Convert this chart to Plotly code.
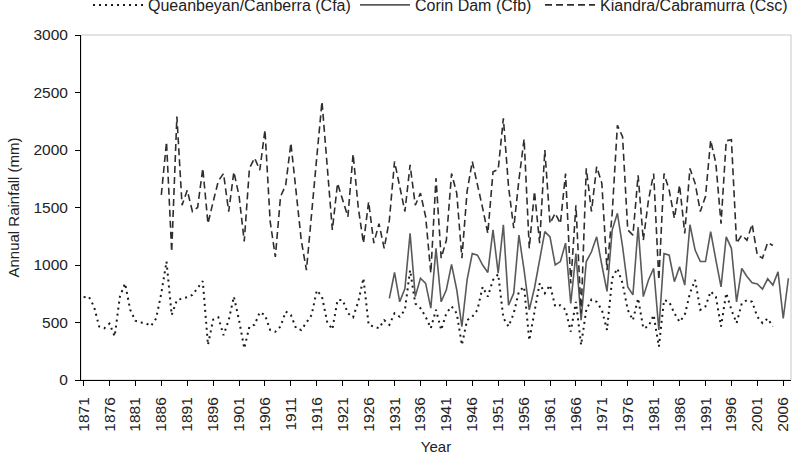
import plotly.graph_objects as go

# ---- data (annual rainfall, mm) ----
q_start = 1871
queanbeyan = [719, 725, 640, 465, 450, 490, 380, 725, 840, 610,
              515, 500, 495, 470, 535, 755, 1030, 565, 695, 705,
              720, 740, 800, 860, 305, 525, 545, 390, 520, 725,
              520, 275, 465, 480, 590, 565, 435, 420, 465, 595,
              565, 450, 435, 495, 565, 780, 725, 505, 440, 695,
              695, 580, 545, 680, 885, 480, 465, 450, 520, 480,
              580, 550, 610, 955, 665, 625, 550, 450, 610, 435,
              580, 640, 580, 305, 520, 550, 610, 810, 725, 870,
              920, 540, 465, 580, 770, 810, 345, 580, 840, 755,
              825, 640, 650, 610, 420, 680, 305, 610, 700, 680,
              610, 435, 885, 970, 840, 610, 520, 710, 450, 465,
              565, 290, 695, 680, 580, 505, 565, 755, 870, 610,
              640, 770, 725, 465, 755, 610, 495, 665, 695, 680,
              550, 495, 535, 465]

c_start = 1930
corin = [710, 935, 680, 795, 1275, 725, 885, 840, 625, 1145,
         680, 785, 1005, 785, 465, 870, 1100, 1085, 1000, 935,
         1305, 930, 1350, 650, 755, 1260, 955, 610, 800, 1040,
         1290, 1245, 1000, 1030, 1190, 665, 1100, 520, 1030, 1115,
         1245, 1000, 770, 1305, 1450, 1160, 810, 740, 1330, 725,
         870, 970, 435, 1100, 1085, 855, 985, 825, 1350, 1130,
         1030, 1030, 1290, 1045, 810, 1245, 1145, 680, 970, 900,
         845, 835, 790, 880, 825, 940, 535, 885]

k_start = 1886
kiandra = [1610, 2070, 1115, 2290, 1520, 1650, 1465, 1500, 1840, 1360,
           1550, 1730, 1795, 1465, 1810, 1600, 1205, 1840, 1930, 1825,
           2175, 1380, 1070, 1595, 1695, 2060, 1640, 1215, 955, 1480,
           1940, 2420, 1840, 1305, 1710, 1565, 1420, 1965, 1500, 1190,
           1550, 1190, 1360, 1145, 1390, 1900, 1680, 1465, 1870, 1520,
           1625, 1420, 930, 1755, 1060, 1215, 1795, 1625, 1060, 1640,
           1900, 1710, 1495, 1275, 1810, 1830, 2275, 1680, 1320, 1740,
           2095, 1145, 1640, 1190, 2000, 1360, 1450, 1360, 1795, 840,
           1520, 580, 1840, 1465, 1855, 1710, 955, 1450, 2215, 2115,
           1305, 1260, 1780, 1215, 1565, 1795, 870, 1795, 1650, 1405,
           1695, 1275, 1840, 1710, 1465, 1595, 2085, 1885, 1360, 2080,
           2090, 1190, 1260, 1215, 1355, 1085, 1060, 1195, 1170]

q_years = list(range(q_start, q_start + len(queanbeyan)))
c_years = list(range(c_start, c_start + len(corin)))
k_years = list(range(k_start, k_start + len(kiandra)))

tick_years = list(range(1871, 2007, 5))
y_ticks = [0, 500, 1000, 1500, 2000, 2500, 3000]

FONT = "Liberation Sans, Arial, sans-serif"
TXT = "#222"

fig = go.Figure()
fig.add_trace(go.Scatter(x=q_years, y=queanbeyan, mode="lines",
                         name="Queanbeyan/Canberra (Cfa)", legend="legend",
                         line=dict(color="#1a1a1a", width=2, dash="2px,4px")))
fig.add_trace(go.Scatter(x=c_years, y=corin, mode="lines",
                         name="Corin Dam (Cfb)", legend="legend2",
                         line=dict(color="#5a5a5a", width=1.6)))
fig.add_trace(go.Scatter(x=k_years, y=kiandra, mode="lines",
                         name="Kiandra/Cabramurra (Csc)", legend="legend3",
                         line=dict(color="#2e2e2e", width=1.6, dash="7px,4px")))

fig.add_shape(type="rect", xref="paper", yref="paper", x0=0, x1=1, y0=0, y1=1,
              line=dict(color="#c8c8c8", width=1), layer="below")

leg_common = dict(orientation="h", xanchor="left", y=1.087, yanchor="middle",
                  font=dict(size=16, family=FONT, color=TXT),
                  itemwidth=50, bgcolor="rgba(0,0,0,0)")

fig.update_layout(
    width=797, height=476,
    margin=dict(l=81, r=6, t=35, b=96, autoexpand=False),
    paper_bgcolor="white", plot_bgcolor="white",
    font=dict(family=FONT, color=TXT, size=15),
    showlegend=True,
    legend=dict(x=0.0099, **leg_common),
    legend2=dict(x=0.3859, **leg_common),
    legend3=dict(x=0.6465, **leg_common),
    xaxis=dict(range=[1870.5, 2007.5], tickmode="array", tickvals=tick_years,
               ticktext=[str(v) for v in tick_years], tickangle=-90,
               showgrid=False, zeroline=False, showline=True, linecolor="black",
               linewidth=1, ticks="outside", ticklen=5, tickcolor="black",
               ticklabelstandoff=5,
               tickfont=dict(size=15.5, family=FONT, color=TXT),
               title=dict(text="Year", font=dict(size=15, family=FONT, color=TXT),
                          standoff=10)),
    yaxis=dict(range=[0, 3000], tickmode="array", tickvals=y_ticks,
               showgrid=False, zeroline=False, showline=True, linecolor="black",
               linewidth=1, ticks="outside", ticklen=5, tickcolor="black",
               ticklabelstandoff=4,
               tickfont=dict(size=15.5, family=FONT, color=TXT),
               title=dict(text="Annual Rainfall (mm)",
                          font=dict(size=15, family=FONT, color=TXT),
                          standoff=10)),
)

fig.write_html("out.html")
